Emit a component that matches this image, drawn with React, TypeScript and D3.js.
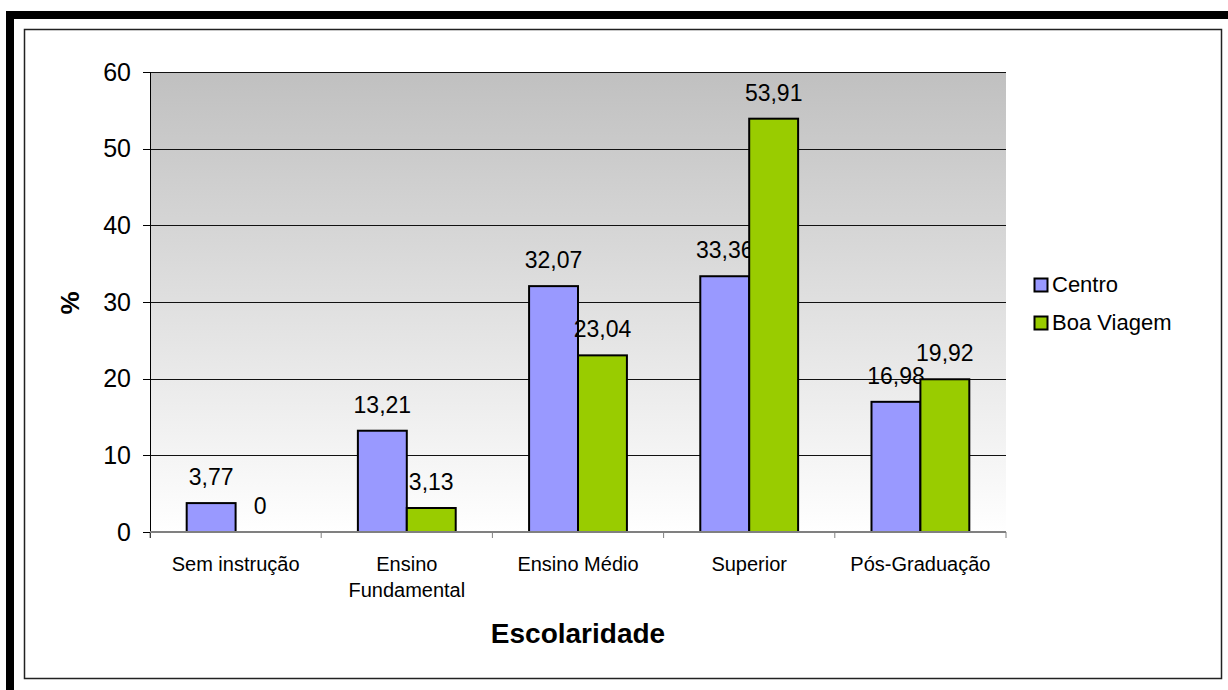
import React from "react";
import * as d3 from "d3";

const categories: string[][] = [
  ["Sem instrução"],
  ["Ensino", "Fundamental"],
  ["Ensino Médio"],
  ["Superior"],
  ["Pós-Graduação"],
];
const seriesNames = ["Centro", "Boa Viagem"];
const centro = [3.77, 13.21, 32.07, 33.36, 16.98];
const boaViagem = [0, 3.13, 23.04, 53.91, 19.92];
const yTicks = [0, 10, 20, 30, 40, 50, 60];
const colors = ["#9999FF", "#99CC00"];

const W = 1228;
const H = 690;
const plot = { left: 150, right: 1006, top: 72, bottom: 532 };
const FONT = "'Liberation Sans', Arial, sans-serif";

const fmt = (v: number) => String(v).replace(".", ",");

export default function App() {
  const x = d3
    .scaleBand<number>()
    .domain(d3.range(categories.length))
    .range([plot.left, plot.right])
    .paddingInner(1.5 / 3.5)
    .paddingOuter(0.75 / 3.5);
  const xs = d3.scaleBand<number>().domain([0, 1]).range([0, x.bandwidth()]);
  const y = d3.scaleLinear().domain([0, 60]).range([plot.bottom, plot.top]);
  const series = [centro, boaViagem];
  const step = x.step();
  const boundaries = d3.range(categories.length + 1).map((i) => plot.left + i * step);

  return (
    <div style={{ position: "absolute", left: 0, top: 0 }}>
      <svg width={W} height={H} style={{ display: "block", background: "#fff" }}>
        <defs>
          <linearGradient id="bg" x1="0" y1="0" x2="0" y2="1">
            <stop offset="0%" stopColor="#c0c0c0" />
            <stop offset="100%" stopColor="#ffffff" />
          </linearGradient>
        </defs>
        {/* thick black border top & left */}
        <rect x={6} y={11} width={W - 6} height={8} fill="#000" />
        <rect x={6} y={11} width={8} height={H - 11} fill="#000" />
        {/* inner frame */}
        <rect x={24.5} y={29.5} width={1197} height={649} fill="#fff" stroke="#222" strokeWidth={1.5} />
        {/* plot area */}
        <rect
          x={plot.left}
          y={plot.top}
          width={plot.right - plot.left}
          height={plot.bottom - plot.top}
          fill="url(#bg)"
        />
        {/* gridlines */}
        {yTicks.slice(1).map((t) => (
          <line key={t} x1={plot.left} x2={plot.right} y1={Math.round(y(t)) + 0.5} y2={Math.round(y(t)) + 0.5} stroke="#111" strokeWidth={1} />
        ))}
        {/* bars */}
        {series.map((s, si) =>
          s.map((v, ci) => {
            const bx = (x(ci) as number) + (xs(si) as number);
            const by = y(v);
            return (
              <g key={`${si}-${ci}`}>
                {v > 0 && (
                  <rect x={bx} y={by} width={xs.bandwidth()} height={plot.bottom - by} fill={colors[si]} stroke="#000" strokeWidth={2} />
                )}
                <text
                  x={bx + xs.bandwidth() / 2}
                  y={by - 18}
                  textAnchor="middle"
                  fontFamily={FONT}
                  fontSize={23}
                  fill="#000"
                >
                  {fmt(v)}
                </text>
              </g>
            );
          })
        )}
        {/* axes */}
        <line x1={plot.left + 0.5} x2={plot.left + 0.5} y1={plot.top} y2={plot.bottom + 6} stroke="#000" strokeWidth={1} />
        <line x1={plot.left} x2={plot.right} y1={plot.bottom} y2={plot.bottom} stroke="#808080" strokeWidth={2} />
        {boundaries.map((bx, i) => (
          <line key={i} x1={bx} x2={bx} y1={plot.bottom} y2={plot.bottom + 6} stroke="#808080" strokeWidth={1} />
        ))}
        {yTicks.map((t) => (
          <g key={t}>
            <line x1={143} x2={plot.left} y1={Math.round(y(t)) + 0.5} y2={Math.round(y(t)) + 0.5} stroke="#000" strokeWidth={1} />
            <text x={131} y={y(t)} dy="0.35em" textAnchor="end" fontFamily={FONT} fontSize={25} fill="#000">
              {t}
            </text>
          </g>
        ))}
        {categories.map((lines, ci) => (
          <text
            key={ci}
            x={(x(ci) as number) + x.bandwidth() / 2}
            y={571}
            textAnchor="middle"
            fontFamily={FONT}
            fontSize={20}
            fill="#000"
          >
            {lines.map((l, li) => (
              <tspan key={li} x={(x(ci) as number) + x.bandwidth() / 2} dy={li === 0 ? 0 : 26}>
                {l}
              </tspan>
            ))}
          </text>
        ))}
        {/* axis titles */}
        <text x={(plot.left + plot.right) / 2} y={643} textAnchor="middle" fontFamily={FONT} fontSize={28} fontWeight="bold">
          Escolaridade
        </text>
        <text transform="translate(79,303) rotate(-90)" textAnchor="middle" fontFamily={FONT} fontSize={26} fontWeight="bold">
          %
        </text>
        {/* legend */}
        {seriesNames.map((n, i) => (
          <g key={n} transform={`translate(1034,${278 + i * 38})`}>
            <rect x={0.5} y={0.5} width={13} height={13} fill={colors[i]} stroke="#000" strokeWidth={2} />
            <text x={18} y={14} fontFamily={FONT} fontSize={22} fill="#000">
              {n}
            </text>
          </g>
        ))}
      </svg>
    </div>
  );
}
